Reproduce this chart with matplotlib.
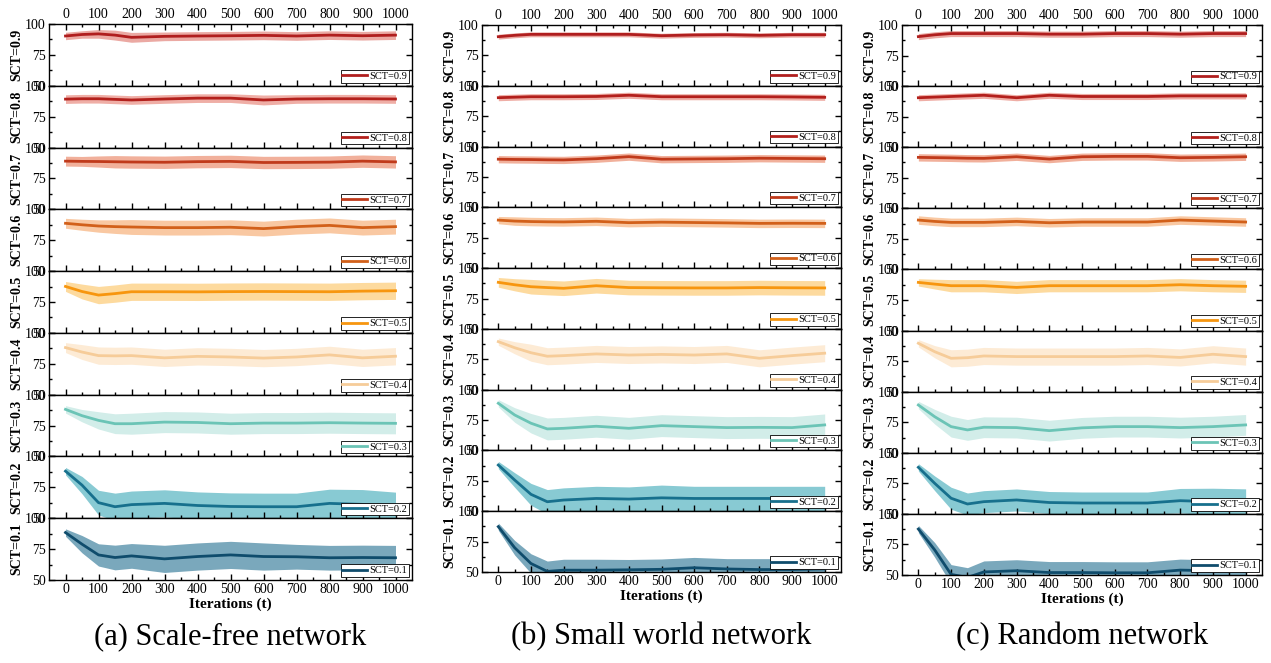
import numpy as np
import matplotlib.pyplot as plt

plt.rcParams['font.family'] = 'Liberation Serif'

iters = [0, 50, 100, 150, 200, 300, 400, 500, 600, 700, 800, 900, 1000]
labels = ['SCT=0.9', 'SCT=0.8', 'SCT=0.7', 'SCT=0.6', 'SCT=0.5',
          'SCT=0.4', 'SCT=0.3', 'SCT=0.2', 'SCT=0.1']
line_colors = ['#B01E1E', '#B3201C', '#C03A1B', '#D2601A', '#F7960F',
               '#F6CC99', '#6BC4B6', '#17708D', '#0F4C6C']
fill_colors = ['#EBA9A3', '#EFAEA6', '#F1B09B', '#F9C8A2', '#FDDA9E',
               '#FDEBD5', '#D2EDE9', '#88CAD3', '#7AA8BC']

# (a) scale-free network
sf_mean = [
    [90.3, 91.5, 92.0, 91.0, 89.2, 90.0, 90.3, 90.5, 90.8, 90.3, 91.0, 90.5, 91.0],
    [89.2, 89.5, 89.5, 89.0, 88.5, 89.3, 90.0, 90.0, 88.5, 89.3, 89.5, 89.5, 89.3],
    [89.0, 88.8, 88.7, 88.5, 88.3, 88.1, 88.6, 88.8, 87.9, 88.0, 88.2, 89.0, 88.4],
    [88.7, 87.5, 86.5, 86.0, 85.7, 85.2, 85.2, 85.5, 84.4, 86.0, 87.0, 85.2, 86.0],
    [87.6, 83.5, 80.6, 81.8, 83.3, 83.3, 83.2, 83.4, 83.5, 83.4, 83.3, 83.8, 84.1],
    [88.1, 84.5, 81.6, 81.4, 81.6, 79.8, 81.0, 80.5, 79.6, 80.5, 82.2, 79.8, 81.1],
    [88.1, 83.0, 79.2, 76.5, 76.5, 77.8, 77.5, 76.5, 77.0, 77.0, 77.3, 77.0, 76.8],
    [88.1, 76.8, 62.6, 59.3, 61.0, 62.0, 60.3, 59.5, 59.3, 59.3, 62.0, 61.2, 60.1],
    [88.4, 79.0, 70.3, 68.2, 69.5, 67.1, 69.0, 70.3, 69.0, 68.8, 68.0, 68.2, 68.0],
]
sf_spread = [
    [3, 3, 3.5, 4, 4, 3.5, 3.5, 3.5, 3.5, 3.5, 3.5, 3.5, 3.5],
    [3.5, 3.5, 3.5, 3.5, 3.5, 3.5, 3.5, 3.5, 4, 3.5, 3.5, 3.5, 3.5],
    [4, 4, 4.5, 5, 5, 5, 5, 5, 5, 5, 5, 5, 5],
    [4, 4.5, 5, 5.5, 6, 6, 6, 6, 6, 6, 6, 6, 6],
    [4, 6, 7, 7, 7, 7, 7, 7, 7, 7, 7, 7, 7],
    [4, 6, 7, 7, 7, 7, 7, 7, 7, 7, 7, 7, 7],
    [3, 5, 7, 8, 8.5, 8.5, 8.5, 8.5, 8.5, 8.5, 8.5, 8.5, 8.5],
    [3, 7, 10, 11, 11, 11, 11, 11, 11, 11, 11.5, 12, 11],
    [3, 7, 9, 10, 10, 11, 11, 11, 11, 10, 10, 10, 10],
]

# (b) small world network
sw_mean = [
    [90.4, 91.5, 92.3, 92.3, 92.3, 92.3, 92.3, 91.2, 91.8, 92.0, 91.5, 92.0, 92.0],
    [90.2, 90.6, 91.0, 91.0, 91.0, 91.2, 92.2, 91.0, 91.0, 91.0, 91.0, 90.8, 90.5],
    [89.6, 89.4, 89.3, 89.1, 89.0, 90.0, 91.7, 89.6, 89.8, 90.0, 90.4, 90.2, 90.0],
    [89.5, 88.7, 88.3, 88.1, 88.0, 88.5, 87.4, 87.8, 87.5, 87.2, 86.8, 86.9, 86.8],
    [88.3, 86.3, 84.7, 84.0, 83.4, 85.5, 84.0, 83.8, 83.7, 83.7, 84.0, 83.8, 83.7],
    [89.5, 84.5, 80.4, 77.5, 78.0, 79.4, 78.5, 79.0, 78.5, 79.4, 75.8, 78.0, 80.0],
    [88.8, 79.2, 72.4, 67.7, 68.2, 69.9, 68.2, 70.4, 69.6, 68.8, 69.0, 68.8, 71.0],
    [88.0, 75.7, 63.9, 57.8, 59.2, 60.5, 60.0, 61.0, 60.5, 60.5, 60.5, 60.5, 60.5],
    [87.3, 70.0, 57.0, 50.5, 51.5, 51.5, 51.8, 52.2, 53.5, 52.5, 52.0, 52.0, 52.5],
]
sw_spread = [
    [2, 2, 2, 2, 2, 2, 2, 2, 2, 2, 2, 2, 2],
    [2.5, 2.5, 2.5, 2.5, 2.5, 2.5, 2.5, 2.5, 2.5, 2.5, 2.5, 2.5, 2.5],
    [3, 3, 3, 3, 3, 3, 3, 3, 3, 3, 3, 3, 3],
    [3, 3.5, 3.5, 3.5, 3.5, 3.5, 3.5, 3.5, 3.5, 3.5, 3.5, 3.5, 3.5],
    [4, 5, 6, 6, 6, 6, 6, 6, 6, 6, 6, 6, 6],
    [3, 5, 7, 7, 7, 7, 7, 7, 7, 7, 7, 7, 7],
    [3, 6, 8, 9, 9, 9, 9, 9, 9, 9, 9, 9, 9],
    [3, 6, 9, 10, 10, 10, 10, 10.5, 10, 10, 10, 10, 10],
    [3, 6, 8, 8.5, 9, 9, 8.5, 8.5, 8.5, 8.5, 9, 9, 9],
]

# (c) random network
rn_mean = [
    [90.5, 92.0, 93.0, 93.0, 93.0, 93.0, 92.5, 92.5, 93.0, 93.0, 92.5, 93.0, 93.0],
    [90.5, 91.0, 91.5, 92.0, 92.5, 90.5, 92.5, 91.5, 91.5, 91.5, 92.0, 92.0, 92.0],
    [91.7, 91.5, 91.3, 91.0, 90.9, 92.2, 90.3, 92.2, 92.5, 92.5, 91.4, 91.7, 92.2],
    [90.4, 89.3, 88.5, 88.5, 88.5, 89.3, 88.2, 88.8, 88.8, 88.8, 90.4, 89.6, 88.8],
    [89.4, 88.0, 86.7, 86.7, 86.7, 85.3, 86.7, 86.7, 86.7, 86.7, 87.5, 86.7, 86.2],
    [89.6, 82.7, 77.3, 77.8, 79.2, 78.7, 78.7, 78.7, 78.7, 79.2, 78.0, 80.6, 78.7],
    [89.1, 79.5, 71.4, 68.7, 70.9, 70.6, 68.1, 70.4, 71.4, 71.4, 70.6, 71.4, 72.8],
    [88.1, 75.0, 62.8, 58.1, 60.0, 61.4, 59.3, 58.9, 58.9, 58.9, 60.8, 60.0, 59.5],
    [87.6, 70.5, 50.5, 48.0, 52.5, 53.5, 52.0, 52.0, 51.8, 51.8, 54.0, 53.5, 53.0],
]
rn_spread = [
    [2.5, 2.5, 2.5, 2.5, 2.5, 2.5, 2.5, 2.5, 2.5, 2.5, 2.5, 2.5, 2.5],
    [2.5, 2.5, 2.5, 2.5, 2.5, 2.5, 2.5, 2.5, 2.5, 2.5, 2.5, 2.5, 2.5],
    [3, 3, 3, 3, 3, 3, 3, 3, 3, 3, 3, 3, 3],
    [3.5, 3.5, 3.5, 3.5, 3.5, 3.5, 3.5, 3.5, 3.5, 3.5, 3.5, 3.5, 3.5],
    [3, 4, 5, 5, 5, 5, 5, 5, 5, 5, 5, 5, 5],
    [3, 5, 7, 7, 7, 7, 7, 7, 7, 7, 7, 7, 7],
    [3, 6, 8.5, 8.5, 8.5, 8.5, 8.5, 8.5, 8.5, 8.5, 8.5, 8.5, 8.5],
    [3, 6, 9, 9, 9, 9, 9, 9, 9, 9, 10, 11, 11],
    [3, 6, 8, 8, 9, 9, 9, 9, 9, 9, 9, 9, 9],
]

W, H = 1271, 663
fig = plt.figure(figsize=(W / 100, H / 100), dpi=100)


def draw_panel(left, right, top, bottom, means, spreads, caption):
    h = (bottom - top) / 9
    for i in range(9):
        y0 = top + i * h
        ax = fig.add_axes([left / W, 1 - (y0 + h) / H, (right - left) / W, h / H])
        m = np.array(means[i])
        s = np.array(spreads[i])
        ax.fill_between(iters, m - s, m + s, color=fill_colors[i], lw=0)
        ax.plot(iters, m, color=line_colors[i], lw=2, label=labels[i])
        ax.set_xlim(-50, 1050)
        ax.set_ylim(50, 100)
        ax.set_yticks([50, 75, 100])
        ax.set_yticks([62.5, 87.5], minor=True)
        ax.set_xticks(range(0, 1001, 100))
        ax.set_xticks(range(50, 1001, 100), minor=True)
        ax.tick_params(which='both', direction='in', right=True, width=1,
                       top=(i == 0), labeltop=(i == 0), labelbottom=(i == 8),
                       labelsize=10, pad=2.5)
        ax.tick_params(which='major', length=4)
        ax.tick_params(which='minor', length=2.5)
        for sp in ax.spines.values():
            sp.set_linewidth(1)
        ax.set_ylabel(labels[i], fontweight='bold', fontsize=10, labelpad=1)
        leg = ax.legend(loc='lower right', fontsize=7.5, fancybox=False,
                        edgecolor='black', framealpha=1, borderpad=0.15,
                        handlelength=2.4, handletextpad=0.2, borderaxespad=0.3)
        leg.get_frame().set_linewidth(0.6)
        if i == 8:
            ax.set_xlabel('Iterations (t)', fontweight='bold', fontsize=11, labelpad=1)
    fig.text((left + right) / 2 / W, 1 - 637 / H, caption, fontsize=22,
             ha='center', va='center')


draw_panel(49, 412, 24, 580, sf_mean, sf_spread, '(a) Scale-free network')
draw_panel(482, 841, 25, 572, sw_mean, sw_spread, '(b) Small world network')
draw_panel(902, 1262, 25, 575, rn_mean, rn_spread, '(c) Random network')

plt.savefig('out.png', dpi=100)
